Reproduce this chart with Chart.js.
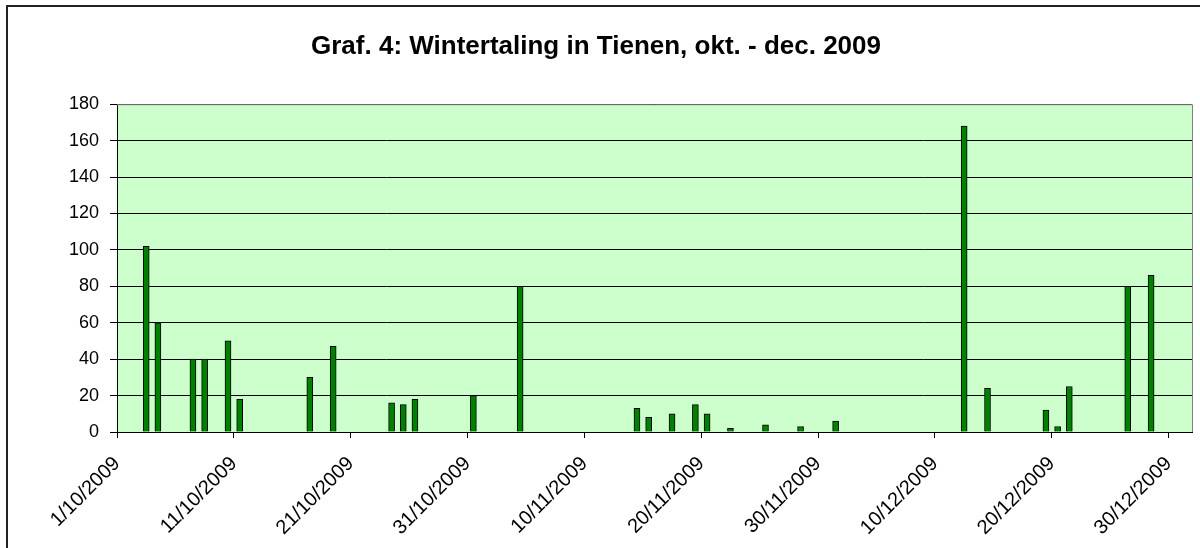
<!DOCTYPE html>
<html>
<head>
<meta charset="utf-8">
<title>Graf. 4: Wintertaling in Tienen</title>
<script src="https://cdn.jsdelivr.net/npm/chart.js@4.4.1/dist/chart.umd.min.js"></script>
<style>
  html, body { margin: 0; padding: 0; background: #fff; }
  #wrap { width: 1200px; height: 548px; }
</style>
</head>
<body>
<div id="wrap"><canvas id="chart" width="1200" height="548"></canvas></div>
<script>
// telling data (dag/maand/jaar)
const dates = [
  '3/10/2009', '4/10/2009', '7/10/2009', '8/10/2009', '10/10/2009', '11/10/2009',
  '17/10/2009', '19/10/2009', '24/10/2009', '25/10/2009', '26/10/2009', '31/10/2009',
  '4/11/2009', '14/11/2009', '15/11/2009', '17/11/2009', '19/11/2009', '20/11/2009',
  '22/11/2009', '25/11/2009', '28/11/2009', '1/12/2009', '12/12/2009', '14/12/2009',
  '19/12/2009', '20/12/2009', '21/12/2009', '26/12/2009', '28/12/2009'
];
const counts = [
  102, 60, 40, 40, 50, 18,
  30, 47, 16, 15, 18, 20,
  80, 13, 8, 10, 15, 10,
  2, 4, 3, 6, 168, 24,
  12, 3, 25, 80, 86
];
const startDate = '1/10/2009';
const endDate = '1/1/2010';
const yTicks = [0, 20, 40, 60, 80, 100, 120, 140, 160, 180];

function toUTC(s) {
  const p = s.split('/').map(Number);
  return Date.UTC(p[2], p[1] - 1, p[0]);
}
const DAY = 86400000;
const t0 = toUTC(startDate);
const span = (toUTC(endDate) - t0) / DAY;

// bar sits in the middle of its day
const points = dates.map((d, i) => ({ x: (toUTC(d) - t0) / DAY + 0.5, y: counts[i] }));

function dayLabel(v) {
  const d = new Date(t0 + v * DAY);
  return d.getUTCDate() + '/' + (d.getUTCMonth() + 1) + '/' + d.getUTCFullYear();
}

// plot achtergrond + kader
const frame = {
  id: 'frame',
  beforeDraw(chart) {
    const ctx = chart.ctx, a = chart.chartArea;
    ctx.save();
    ctx.fillStyle = '#fff';
    ctx.fillRect(0, 0, chart.width, chart.height);
    ctx.strokeStyle = '#222';
    ctx.lineWidth = 2;
    ctx.strokeRect(7, 6, chart.width + 20, chart.height + 20);
    ctx.fillStyle = '#ccffcc';
    ctx.fillRect(a.left, a.top, a.right - a.left, a.bottom - a.top);
    ctx.restore();
  },
  afterDraw(chart) {
    const ctx = chart.ctx, a = chart.chartArea;
    ctx.save();
    ctx.strokeStyle = '#808080';
    ctx.lineWidth = 1;
    ctx.beginPath();
    ctx.moveTo(a.left, a.top + 0.5);
    ctx.lineTo(a.right + 0.5, a.top + 0.5);
    ctx.lineTo(a.right + 0.5, a.bottom);
    ctx.stroke();
    ctx.restore();
  }
};

Chart.defaults.font.family = '"Liberation Sans", Arial, sans-serif';
Chart.defaults.color = '#000';

new Chart(document.getElementById('chart').getContext('2d'), {
  type: 'bar',
  data: {
    datasets: [{
      data: points,
      backgroundColor: '#008000',
      borderColor: '#000',
      borderWidth: 1,
      barThickness: 6
    }]
  },
  options: {
    responsive: false,
    animation: false,
    layout: { padding: { left: 0, right: 8, top: 0, bottom: 0 } },
    plugins: {
      legend: { display: false },
      tooltip: { enabled: false },
      title: {
        display: true,
        text: 'Graf. 4: Wintertaling in Tienen, okt. - dec. 2009',
        font: { size: 26, weight: 'bold' },
        color: '#000',
        padding: { top: 31, bottom: 42 }
      }
    },
    scales: {
      x: {
        type: 'linear',
        offset: false,
        min: 0,
        max: span,
        afterFit(s) { s.height = 116; },
        grid: { offset: false, drawOnChartArea: false, drawTicks: true, tickLength: 6, color: '#000' },
        border: { color: '#000', width: 1 },
        ticks: {
          stepSize: 10,
          includeBounds: false,
          autoSkip: false,
          maxRotation: 45,
          minRotation: 45,
          padding: 14,
          font: { size: 20 },
          callback: v => dayLabel(v)
        }
      },
      y: {
        min: 0,
        max: 180,
        afterFit(s) { s.width = 117; },
        afterBuildTicks(s) { s.ticks = yTicks.map(v => ({ value: v })); },
        grid: { color: '#000', lineWidth: 1, tickLength: 7 },
        border: { color: '#000', width: 1 },
        ticks: { padding: 11, font: { size: 18 } }
      }
    }
  },
  plugins: [frame]
});
</script>
</body>
</html>
